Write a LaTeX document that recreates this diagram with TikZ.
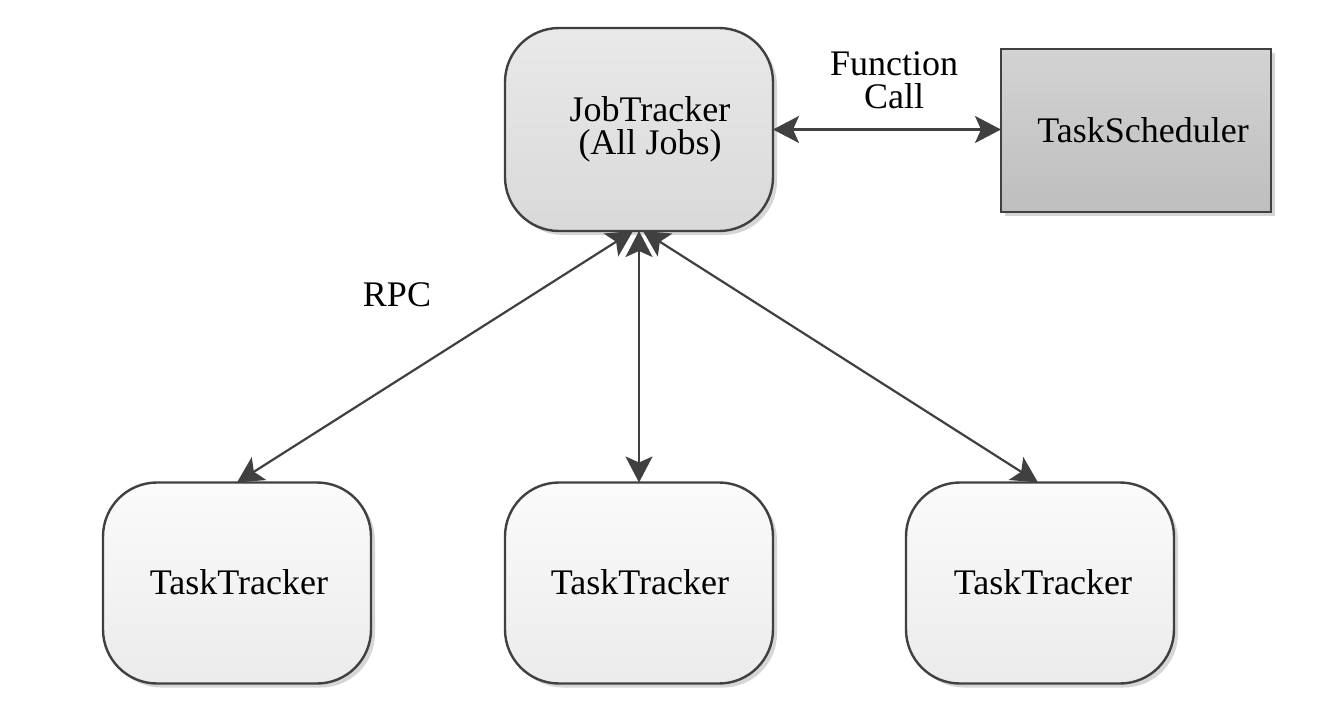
\documentclass[tikz,border=0pt]{standalone}
\usepackage{fontspec}
\setmainfont{Liberation Serif}
\usetikzlibrary{arrows.meta,shadows,calc}
\definecolor{edgec}{HTML}{404040}
\definecolor{jtop}{HTML}{E9E9E9}
\definecolor{jbot}{HTML}{D9D9D9}
\definecolor{ttop}{HTML}{FBFBFB}
\definecolor{tbot}{HTML}{EBEBEB}
\definecolor{stop}{HTML}{D3D3D3}
\definecolor{sbot}{HTML}{BEBEBE}
\definecolor{shad}{HTML}{D6D6D6}
\begin{document}
\begin{tikzpicture}[x=1pt,y=-1pt,
  every node/.style={font=\fontsize{36pt}{33pt}\selectfont, inner sep=0pt, outer sep=0pt},
  box/.style={draw=edgec, line width=2.4pt, minimum width=268pt,
    drop shadow={shadow xshift=4pt, shadow yshift=-4pt, fill=shad, opacity=1}},
  rbox/.style={box, rounded corners=54pt, minimum height=201pt},
  tracker/.style={rbox, top color=ttop, bottom color=tbot},
  txt/.style={align=center},
  conn/.style={draw=edgec, line width=2.2pt,
    {Stealth[length=26pt,width=27pt,inset=6pt]}-{Stealth[length=26pt,width=27pt,inset=6pt]}}
]
\useasboundingbox (0,0) rectangle (1320,713);
\fill[white] (0,0) rectangle (1320,713);

% boxes
\node[rbox, top color=jtop, bottom color=jbot, minimum height=203pt] (jt) at (639,129.5) {};
\node[box, minimum width=270pt, minimum height=163pt, top color=stop, bottom color=sbot] (ts) at (1136,130.5) {};
\node[tracker] (tt1) at (237,583) {};
\node[tracker] (tt2) at (639,583) {};
\node[tracker] (tt3) at (1040,583) {};

% texts
\node[txt] (jtl) at (650,129) {JobTracker\\(All Jobs)};
\node[txt] (tsl) at (1143,130) {TaskScheduler};
\node[txt] (tt1l) at (239,582) {TaskTracker};
\node[txt] (tt2l) at (640,582) {TaskTracker};
\node[txt] (tt3l) at (1043,582) {TaskTracker};
\node[txt] (fc) at (894,80) {Function\\Call};
\node[txt] (rpc) at (397,295) {RPC};

% connectors
\draw[conn] (jt.east) -- (jt.east -| ts.west);
\coordinate (jtA) at ($(jt.south)+(-6,0)$);
\coordinate (jtC) at ($(jt.south)+(4,0)$);
\draw[conn] (jtA) -- (tt1.north);
\draw[conn] (jt.south) -- (tt2.north);
\draw[conn] (jtC) -- ($(tt3.north)+(-2,0)$);
\end{tikzpicture}
\end{document}
